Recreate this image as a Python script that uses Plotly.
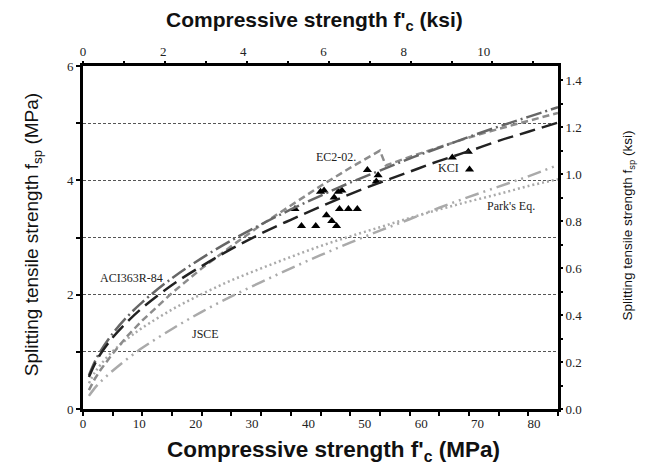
import plotly.graph_objects as go

# compressive strength (MPa) sampled along the model curves
fc = [1, 2, 3, 5, 7.5, 10, 15, 20, 25, 30, 35, 40, 45, 50, 55, 60, 65, 70, 75, 80]
aci363 = [0.59, 0.83, 1.02, 1.32, 1.62, 1.87, 2.29, 2.64, 2.95, 3.23, 3.49, 3.73, 3.96, 4.17,
          4.38, 4.57, 4.76, 4.94, 5.11, 5.28]
kci = [0.56, 0.79, 0.97, 1.25, 1.53, 1.77, 2.17, 2.50, 2.80, 3.07, 3.31, 3.54, 3.76, 3.96,
       4.15, 4.34, 4.51, 4.69, 4.85, 5.01]
parks = [0.45, 0.64, 0.78, 1.01, 1.23, 1.42, 1.74, 2.01, 2.25, 2.46, 2.66, 2.85, 3.02, 3.18,
         3.34, 3.49, 3.63, 3.76, 3.90, 4.02]
jsce = [0.23, 0.37, 0.48, 0.67, 0.88, 1.07, 1.40, 1.70, 1.97, 2.22, 2.46, 2.69, 2.91, 3.12,
        3.32, 3.52, 3.71, 3.89, 4.07, 4.27]
ec2_fc = [1, 2, 3, 5, 7.5, 10, 15, 20, 25, 30, 35, 40, 45, 50, 51, 55, 60, 65, 70, 75, 80]
ec2 = [0.33, 0.53, 0.69, 0.97, 1.28, 1.55, 2.03, 2.46, 2.85, 3.22, 3.56, 3.90, 4.22, 4.52,
       4.26, 4.41, 4.58, 4.75, 4.90, 5.04, 5.18]

# test results
test_fc = [47.9, 49.7, 49.4, 40.0, 40.6, 43.0, 43.6, 42.3, 35.7, 43.2, 44.7, 46.2, 41.0, 41.9,
           42.7, 36.8, 39.2, 62.2, 64.9, 65.1]
test_fsp = [4.18, 4.09, 3.98, 3.80, 3.82, 3.80, 3.82, 3.70, 3.50, 3.50, 3.50, 3.50, 3.39, 3.29,
            3.20, 3.20, 3.20, 4.40, 4.50, 4.19]

serif = "Liberation Serif"
sans = "Liberation Sans"

fig = go.Figure()

fig.add_trace(go.Scatter(x=test_fc, y=test_fsp, mode="markers",
                         marker=dict(symbol="triangle-up", size=8, color="black")))

fig.add_trace(go.Scatter(x=fc, y=jsce, mode="lines", line_shape="spline",
                         line=dict(color="#aaaaaa", width=2.5, dash="14px,5px,2px,5px,2px,5px")))
fig.add_trace(go.Scatter(x=fc, y=parks, mode="lines", line_shape="spline",
                         line=dict(color="#aaaaaa", width=2.5, dash="2px,3px")))
fig.add_trace(go.Scatter(x=ec2_fc, y=ec2, mode="lines",
                         line=dict(color="#8c8c8c", width=2.5, dash="7px,4px")))
fig.add_trace(go.Scatter(x=fc, y=aci363, mode="lines", line_shape="spline",
                         line=dict(color="#666666", width=2.5, dash="16px,4px,2px,4px")))
fig.add_trace(go.Scatter(x=fc, y=kci, mode="lines", line_shape="spline",
                         line=dict(color="#222222", width=2.5, dash="16px,7px")))

tickfont = dict(family=serif, size=13, color="#222")
grid = dict(gridcolor="#555", gridwidth=0.8, griddash="3px,2px")

# the page body keeps its 8px default margin, so the figure is 8px smaller
fig.update_layout(
    width=638, height=462,
    margin=dict(l=75, r=88, t=58, b=61),
    plot_bgcolor="white", paper_bgcolor="white",
    showlegend=False,
    xaxis=dict(range=[0, 80], tickvals=list(range(0, 81, 5)), showticklabels=False,
               ticks="outside", ticklen=4, tickwidth=1.5, tickcolor="black",
               showline=True, linewidth=3, linecolor="black", mirror=True,
               showgrid=False, zeroline=False),
    xaxis2=dict(overlaying="x", anchor="y", side="top", range=[0, 11.6],
                tickvals=list(range(0, 12)), showticklabels=False,
                ticks="outside", ticklen=4, tickwidth=1.5, tickcolor="black",
                showline=False, showgrid=False, zeroline=False),
    xaxis3=dict(overlaying="x", anchor="y", side="bottom", range=[0, 84.26],
                tickvals=list(range(0, 81, 10)), ticks="", tickfont=tickfont,
                ticklabelstandoff=5,
                showline=False, showgrid=False, zeroline=False),
    xaxis4=dict(overlaying="x", anchor="y", side="top", range=[0, 11.85],
                tickvals=list(range(0, 11, 2)), ticks="", tickfont=tickfont,
                ticklabelstandoff=6,
                showline=False, showgrid=False, zeroline=False),
    yaxis=dict(range=[0, 6], tickvals=[0, 2, 4, 6], tickfont=tickfont,
               ticks="outside", ticklen=4, tickwidth=1.5, tickcolor="black",
               minor=dict(tickvals=[1, 3, 5], ticks="outside", ticklen=4, tickwidth=1.5,
                          tickcolor="black", showgrid=True, **grid),
               showline=True, linewidth=3, linecolor="black", mirror=True,
               showgrid=True, zeroline=False, **grid),
    yaxis2=dict(overlaying="y", anchor="x", side="right", range=[0, 1.46],
                tickvals=[i / 5 for i in range(8)], tickformat=".1f", tickfont=tickfont,
                ticks="outside", ticklen=4, tickwidth=1.5, tickcolor="black",
                minor=dict(tickvals=[i / 10 for i in range(1, 15, 2)], ticks="outside",
                           ticklen=4, tickwidth=1.5, tickcolor="black", showgrid=False),
                showline=False, showgrid=False, zeroline=False),
)

# dummy traces so the extra axes get drawn
fig.add_trace(go.Scatter(x=[None], y=[None], xaxis="x2", showlegend=False))
fig.add_trace(go.Scatter(x=[None], y=[None], xaxis="x3", showlegend=False))
fig.add_trace(go.Scatter(x=[None], y=[None], xaxis="x4", showlegend=False))
fig.add_trace(go.Scatter(x=[None], y=[None], yaxis="y2", showlegend=False))

labels = [("EC2-02.", 42.6, 4.41), ("KCI", 61.5, 4.22), ("Park's Eq.", 72.1, 3.55),
          ("ACI363R-84", 8.1, 2.29), ("JSCE", 20.7, 1.31)]
for txt, lx, ly in labels:
    fig.add_annotation(x=lx, y=ly, xref="x", yref="y", text=txt, showarrow=False,
                       xanchor="center", yanchor="middle",
                       font=dict(family=serif, size=12, color="#222"))

titles = [
    ("<b>Compressive strength f'<sub>c</sub> (ksi)</b>", 0.488, 1.131, 0, 21),
    ("<b>Compressive strength f'<sub>c</sub> (MPa)</b>", 0.528, -0.1224, 0, 22.5),
    ("Splitting tensile strength f<sub>sp</sub> (MPa)", -0.105, 0.507, -90, 19),
    ("Splitting tensile strength f<sub>sp</sub> (ksi)", 1.149, 0.534, -90, 13.5),
]
for txt, tx, ty, ang, size in titles:
    fig.add_annotation(x=tx, y=ty, xref="paper", yref="paper", showarrow=False,
                       xanchor="center", yanchor="middle", textangle=ang, text=txt,
                       font=dict(family=sans, size=size, color="#111"))

fig.write_html("out.html")
